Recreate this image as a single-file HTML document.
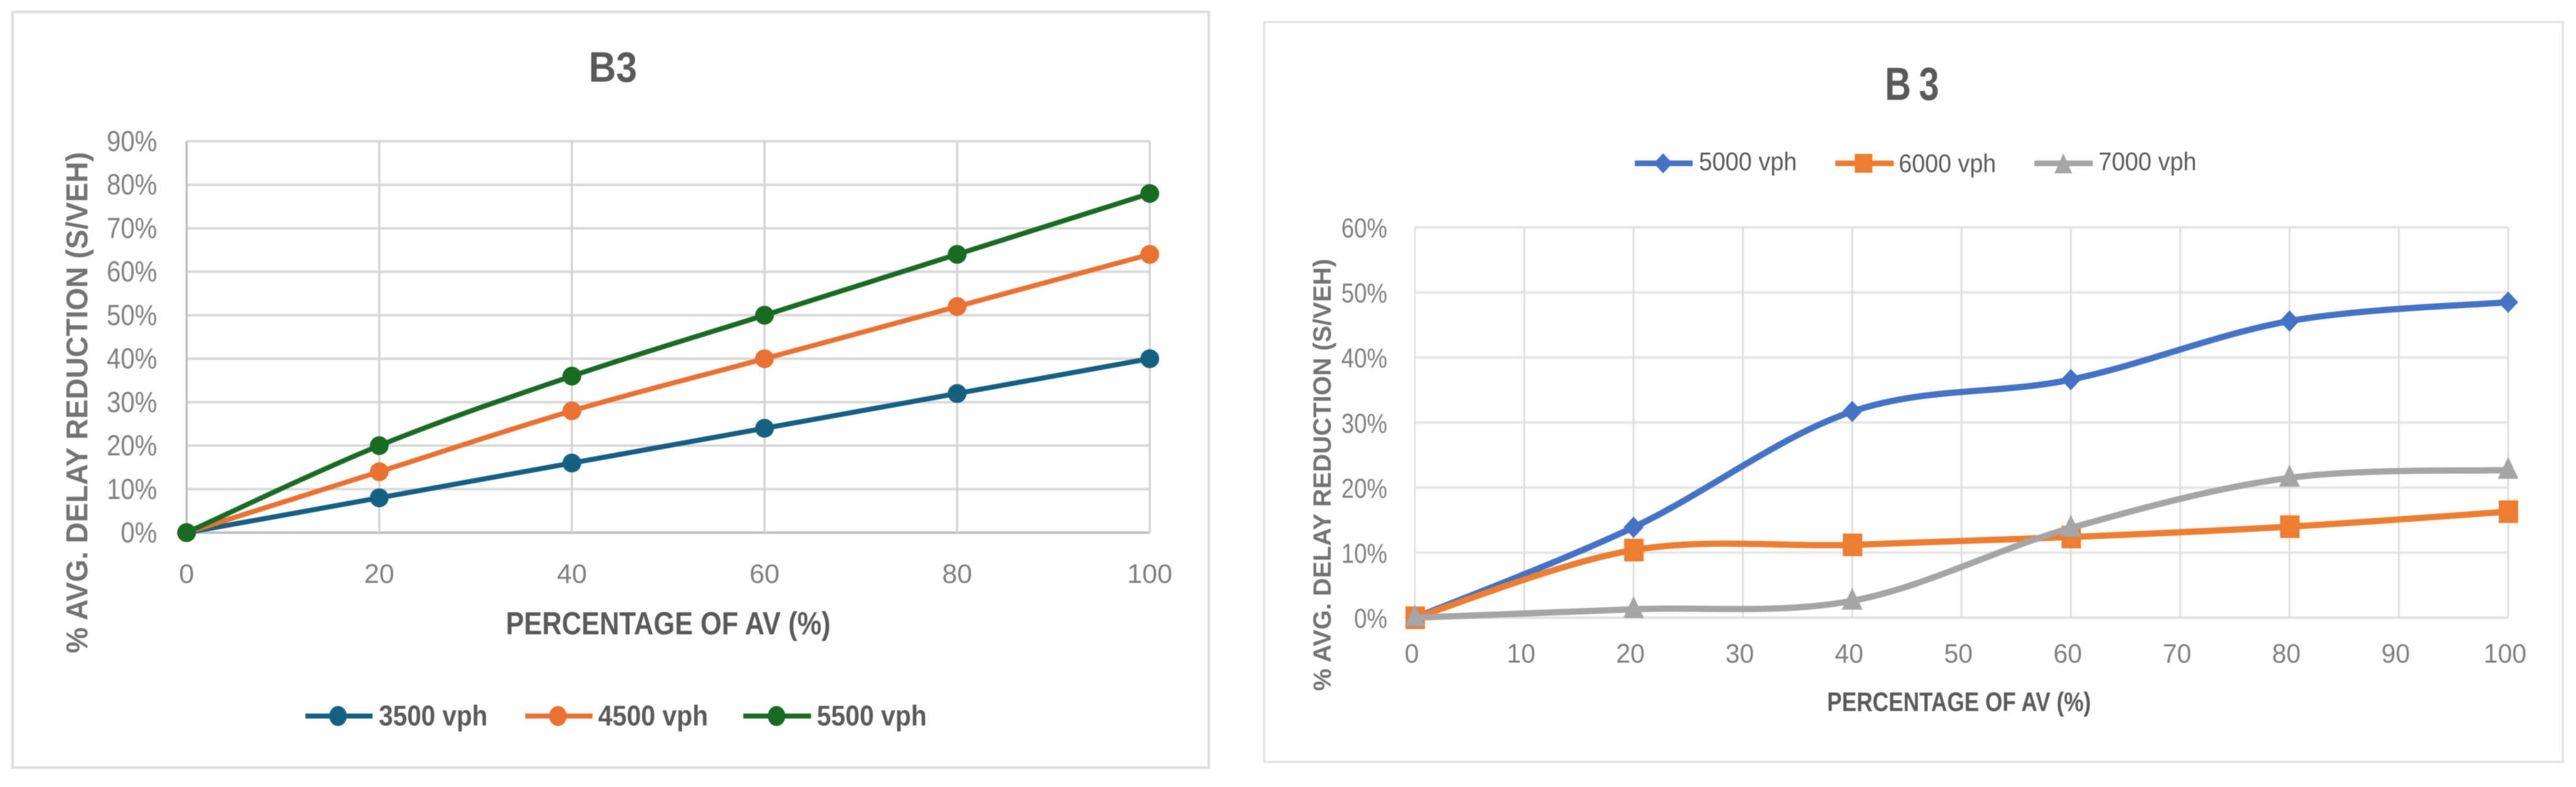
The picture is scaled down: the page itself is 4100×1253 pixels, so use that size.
<!DOCTYPE html>
<html lang="en">
<head>
<meta charset="utf-8">
<title>B3 average delay reduction charts</title>
<style>
html,body{margin:0;padding:0;background:#fff;width:4100px;height:1253px;overflow:hidden}
svg{display:block;filter:blur(0.8px)}
text{font-family:"Liberation Sans",sans-serif}
</style>
</head>
<body>
<svg id="figure" xmlns="http://www.w3.org/2000/svg" width="4100" height="1253" viewBox="0 0 4100 1253">
  <rect x="0" y="0" width="4100" height="1253" fill="#ffffff"/>

  <g id="left-chart">
    <rect x="20" y="19" width="1904" height="1203" fill="#ffffff" stroke="#dedede" stroke-width="4"/>
    <text x="937" y="130" font-size="68" font-weight="700" fill="#595959" textLength="77" lengthAdjust="spacingAndGlyphs">B3</text>
    <text x="805" y="1010" font-size="51" font-weight="700" fill="#595959" textLength="517" lengthAdjust="spacingAndGlyphs">PERCENTAGE OF AV (%)</text>
    <text transform="translate(139,1040) rotate(-90)" font-size="48" font-weight="700" fill="#737373" textLength="798" lengthAdjust="spacingAndGlyphs">% AVG. DELAY REDUCTION (S/VEH)</text>
    <g id="left-grid"></g>
    <g id="left-ticks"></g>
    <g id="left-marks"></g>
    <g>
      <g>
        <line x1="486" y1="1140" x2="593" y2="1140" stroke="#156082" stroke-width="8"/>
        <ellipse cx="538" cy="1140" rx="14" ry="16" fill="#156082"/>
        <text x="603" y="1155" font-size="45" font-weight="700" fill="#595959" textLength="173" lengthAdjust="spacingAndGlyphs">3500 vph</text>
      </g>
      <g>
        <line x1="836" y1="1140" x2="943" y2="1140" stroke="#E97132" stroke-width="8"/>
        <ellipse cx="888" cy="1140" rx="14" ry="16" fill="#E97132"/>
        <text x="952" y="1155" font-size="45" font-weight="700" fill="#595959" textLength="175" lengthAdjust="spacingAndGlyphs">4500 vph</text>
      </g>
      <g>
        <line x1="1183" y1="1140" x2="1291" y2="1140" stroke="#196B24" stroke-width="8"/>
        <ellipse cx="1236" cy="1140" rx="14" ry="16" fill="#196B24"/>
        <text x="1300" y="1155" font-size="45" font-weight="700" fill="#595959" textLength="175" lengthAdjust="spacingAndGlyphs">5500 vph</text>
      </g>
    </g>
  </g>

  <g id="right-chart">
    <rect x="2012" y="35" width="2067" height="1178" fill="#ffffff" stroke="#e3e3e3" stroke-width="3.5"/>
    <text transform="translate(3000,159) scale(0.78,1)" font-size="74" font-weight="700" letter-spacing="16" fill="#595959">B3</text>
    <text x="2908" y="1132" font-size="43" font-weight="700" fill="#595959" textLength="420" lengthAdjust="spacingAndGlyphs">PERCENTAGE OF AV (%)</text>
    <text transform="translate(2118,1100) rotate(-90)" font-size="40" font-weight="700" fill="#737373" textLength="688" lengthAdjust="spacingAndGlyphs">% AVG. DELAY REDUCTION (S/VEH)</text>
    <g id="right-grid"></g>
    <g id="right-ticks"></g>
    <g id="right-marks"></g>
    <g>
      <g>
        <line x1="2602" y1="260" x2="2694" y2="260" stroke="#4472C4" stroke-width="9"/>
        <polygon points="2647,244 2662,260 2647,276 2632,260" fill="#4472C4"/>
        <text x="2704" y="271" font-size="41" fill="#595959" textLength="156" lengthAdjust="spacingAndGlyphs">5000 vph</text>
      </g>
      <g>
        <line x1="2921" y1="260" x2="3014" y2="260" stroke="#ED7D31" stroke-width="9"/>
        <rect x="2952" y="245" width="28" height="30" fill="#ED7D31"/>
        <text x="3022" y="274" font-size="41" fill="#595959" textLength="155" lengthAdjust="spacingAndGlyphs">6000 vph</text>
      </g>
      <g>
        <line x1="3238" y1="260" x2="3331" y2="260" stroke="#A5A5A5" stroke-width="9"/>
        <polygon points="3284,244 3298,276 3270,276" fill="#A5A5A5"/>
        <text x="3340" y="271" font-size="41" fill="#595959" textLength="156" lengthAdjust="spacingAndGlyphs">7000 vph</text>
      </g>
    </g>
  </g>
</svg>

<script>
// ---- Left chart data ----
const leftCategories = [0, 20, 40, 60, 80, 100];
const leftYTicks = [0, 10, 20, 30, 40, 50, 60, 70, 80, 90];
const leftXTicks = [0, 20, 40, 60, 80, 100];
const leftValues3500 = [0, 8, 16, 24, 32, 40];
const leftValues4500 = [0, 14, 28, 40, 52, 64];
const leftValues5500 = [0, 20, 36, 50, 64, 78];

// ---- Right chart data ----
const rightCategories = [0, 20, 40, 60, 80, 100];
const rightYTicks = [0, 10, 20, 30, 40, 50, 60];
const rightXTicks = [0, 10, 20, 30, 40, 50, 60, 70, 80, 90, 100];
const rightValues5000 = [0, 13.9, 31.7, 36.6, 45.6, 48.5];
const rightValues6000 = [0, 10.4, 11.2, 12.4, 14.0, 16.3];
const rightValues7000 = [0, 1.3, 2.6, 13.8, 21.5, 22.7];

// ---- Axis functions ----
const leftX = function (v) { return 297 + (v / 100) * 1533; };
const leftY = function (v) { return 848 - (v / 90) * 623; };
const rightX = function (v) { return 2252 + (v / 100) * 1740; };
const rightY = function (v) { return 983.5 - (v / 60) * 621.5; };

const SVG_NS = 'http://www.w3.org/2000/svg';
function make(tag, parent, attrs) {
  const el = document.createElementNS(SVG_NS, tag);
  for (const k in attrs) el.setAttribute(k, attrs[k]);
  parent.appendChild(el);
  return el;
}

function smoothPath(xs, ys) {
  let d = 'M' + xs[0] + ' ' + ys[0];
  for (let i = 0; i < xs.length - 1; i++) {
    const a = Math.max(i - 1, 0), b = Math.min(i + 2, xs.length - 1);
    const c1x = xs[i] + (xs[i + 1] - xs[a]) / 6;
    const c1y = ys[i] + (ys[i + 1] - ys[a]) / 6;
    const c2x = xs[i + 1] - (xs[b] - xs[i]) / 6;
    const c2y = ys[i + 1] - (ys[b] - ys[i]) / 6;
    d += 'C' + c1x + ' ' + c1y + ' ' + c2x + ' ' + c2y + ' ' + xs[i + 1] + ' ' + ys[i + 1];
  }
  return d;
}

function drawGrid(parent, xf, yf, xTicks, yTicks, hStyle, vStyle) {
  yTicks.forEach(function (t, i) {
    const color = i === 0 ? hStyle.axis : hStyle.color;
    const l = make('line', parent, { x1: xf(xTicks[0]), x2: xf(xTicks[xTicks.length - 1]), y1: yf(t), y2: yf(t), stroke: color, 'stroke-width': hStyle.width });
    
    
  });
  xTicks.forEach(function (t, i) {
    const color = i === 0 ? vStyle.axis : vStyle.color;
    const l = make('line', parent, { x1: xf(t), x2: xf(t), y1: yf(yTicks[0]), y2: yf(yTicks[yTicks.length - 1]), stroke: color, 'stroke-width': vStyle.width });
    
    
  });
}

function drawTicks(parent, xf, yf, xTicks, yTicks, s) {
  yTicks.forEach(function (t) {
    const el = make('text', parent, { transform: 'translate(' + s.yRight + ',' + (yf(t) + s.yShift) + ') scale(' + s.ySx + ',1)', 'text-anchor': 'end', 'font-size': s.ySize, fill: '#7f7f7f' });
    el.textContent = t + '%';
    
    
  });
  xTicks.forEach(function (t) {
    const el = make('text', parent, { transform: 'translate(' + (xf(t) + s.xShift) + ',' + s.xBase + ') scale(' + s.xSx + ',1)', 'text-anchor': 'middle', 'font-size': s.xSize, fill: '#7f7f7f' });
    el.textContent = String(t);
    
    
  });
}

function drawLine(parent, categories, values, xf, yf, color, width) {
  const xs = categories.map(xf);
  const ys = values.map(yf);
  const p = make('path', parent, { d: smoothPath(xs, ys), fill: 'none', stroke: color, 'stroke-width': width, 'stroke-linejoin': 'round' });
  
  
}

function drawCircles(parent, categories, values, xf, yf, color) {
  categories.forEach(function (c, i) {
    const m = make('circle', parent, { cx: xf(c), cy: yf(values[i]), r: 15, fill: color });
    
    
  });
}

function drawDiamonds(parent, categories, values, xf, yf, color) {
  categories.forEach(function (c, i) {
    const x = xf(c), y = yf(values[i]);
    const m = make('polygon', parent, { points: x + ',' + (y - 17) + ' ' + (x + 16) + ',' + y + ' ' + x + ',' + (y + 17) + ' ' + (x - 16) + ',' + y, fill: color });
    
    
  });
}

function drawSquares(parent, categories, values, xf, yf, color) {
  categories.forEach(function (c, i) {
    const m = make('rect', parent, { x: xf(c) - 15, y: yf(values[i]) - 18, width: 31, height: 36, fill: color });
    
    
  });
}

function drawTriangles(parent, categories, values, xf, yf, color) {
  categories.forEach(function (c, i) {
    const x = xf(c), y = yf(values[i]);
    const m = make('polygon', parent, { points: x + ',' + (y - 21) + ' ' + (x + 16.5) + ',' + (y + 14) + ' ' + (x - 16.5) + ',' + (y + 14), fill: color });
    
    
  });
}

// ---- Left chart ----
const lg = document.getElementById('left-grid');
const lt = document.getElementById('left-ticks');
const lm = document.getElementById('left-marks');
drawGrid(lg, leftX, leftY, leftXTicks, leftYTicks, { color: '#d9d9d9', axis: '#bfbfbf', width: 4 }, { color: '#d4d4d4', axis: '#bfbfbf', width: 3.5 });
drawTicks(lt, leftX, leftY, leftXTicks, leftYTicks, { yRight: 250, yShift: 15.5, ySx: 0.87, ySize: 46, xShift: 0, xBase: 928, xSx: 1, xSize: 43 });
drawLine(lm, leftCategories, leftValues3500, leftX, leftY, '#156082', 8);
drawCircles(lm, leftCategories, leftValues3500, leftX, leftY, '#156082');
drawLine(lm, leftCategories, leftValues4500, leftX, leftY, '#E97132', 8);
drawCircles(lm, leftCategories, leftValues4500, leftX, leftY, '#E97132');
drawLine(lm, leftCategories, leftValues5500, leftX, leftY, '#196B24', 8);
drawCircles(lm, leftCategories, leftValues5500, leftX, leftY, '#196B24');

// ---- Right chart ----
const rg = document.getElementById('right-grid');
const rt = document.getElementById('right-ticks');
const rm = document.getElementById('right-marks');
drawGrid(rg, rightX, rightY, rightXTicks, rightYTicks, { color: '#e6e6e6', axis: '#e2e2e2', width: 4 }, { color: '#dfdfdf', axis: '#e4e4e4', width: 3 });
drawTicks(rt, rightX, rightY, rightXTicks, rightYTicks, { yRight: 2208, yShift: 16, ySx: 0.83, ySize: 44, xShift: -5, xBase: 1055, xSx: 0.95, xSize: 43 });
drawLine(rm, rightCategories, rightValues5000, rightX, rightY, '#4472C4', 10);
drawDiamonds(rm, rightCategories, rightValues5000, rightX, rightY, '#4472C4');
drawLine(rm, rightCategories, rightValues6000, rightX, rightY, '#ED7D31', 10);
drawSquares(rm, rightCategories, rightValues6000, rightX, rightY, '#ED7D31');
drawLine(rm, rightCategories, rightValues7000, rightX, rightY, '#A5A5A5', 10);
drawTriangles(rm, rightCategories, rightValues7000, rightX, rightY, '#A5A5A5');
</script>
</body>
</html>
